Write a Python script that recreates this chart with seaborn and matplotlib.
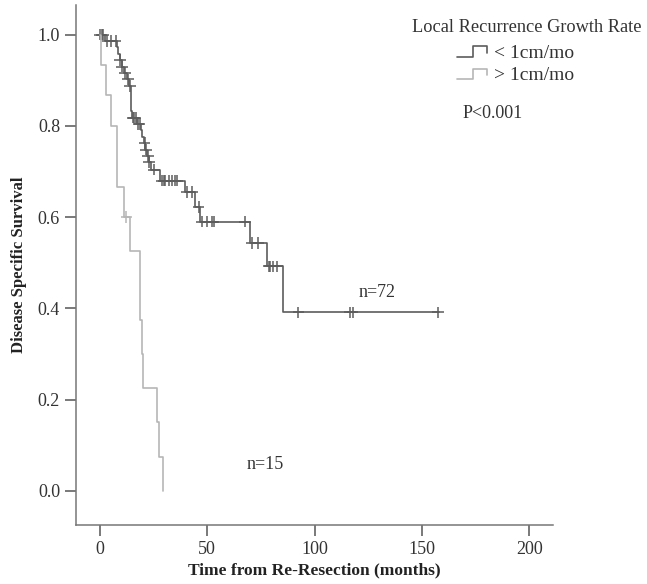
import numpy as np
import pandas as pd
import matplotlib
matplotlib.use("Agg")
import matplotlib.pyplot as plt
import seaborn as sns
from matplotlib.lines import Line2D
from matplotlib.legend_handler import HandlerBase

# KM step functions (time in months, survival)
slow_time = [0, 2.5, 8.2, 8.6, 9.3, 10.2, 11.4, 12.7, 13.8, 14.4, 14.8, 15.2, 17.5,
             19.2, 19.8, 20.5, 21.3, 22.0, 22.8, 23.7, 28.3, 39.9, 44.2, 46.9,
             70.1, 77.8, 85.5, 158.0]
slow_surv = [1.0, 0.986, 0.972, 0.958, 0.944, 0.930, 0.916, 0.902, 0.888, 0.860,
             0.832, 0.818, 0.804, 0.790, 0.776, 0.762, 0.748, 0.734, 0.720, 0.704,
             0.680, 0.655, 0.622, 0.590, 0.543, 0.492, 0.391, 0.391]
slow_censor = [0.2, 0.9, 1.7, 3.6, 5.1, 7.4, 9.6, 10.5, 11.7, 13.2, 14.0, 15.4, 15.9,
               16.7, 18.0, 18.6, 20.9, 21.6, 22.4, 23.1, 25.2, 29.1, 29.8, 30.6,
               32.1, 33.7, 35.3, 36.0, 40.7, 43.0, 46.1, 47.7, 50.0, 52.3, 53.0,
               67.7, 70.9, 73.9, 78.6, 79.4, 80.9, 82.5, 92.5, 116.5, 117.7, 157.5]

fast_time = [0, 0.8, 2.8, 5.1, 8.2, 11.3, 14.1, 18.7, 19.0, 19.8, 20.3, 26.5, 27.8, 29.6]
fast_surv = [1.0, 0.933, 0.867, 0.800, 0.667, 0.600, 0.525, 0.450, 0.375, 0.300,
             0.225, 0.150, 0.075, 0.0]
fast_censor = [12.5]

groups = ["< 1cm/mo", "> 1cm/mo"]
colors = ["#5c5c5c", "#b6b6b6"]


def censor_points(times, surv, cens):
    idx = np.searchsorted(times, cens, side="right") - 1
    return np.array(surv)[idx]


curves = pd.concat([
    pd.DataFrame({"t": slow_time, "s": slow_surv, "g": groups[0]}),
    pd.DataFrame({"t": fast_time, "s": fast_surv, "g": groups[1]}),
])
marks = pd.concat([
    pd.DataFrame({"t": slow_censor, "s": censor_points(slow_time, slow_surv, slow_censor), "g": groups[0]}),
    pd.DataFrame({"t": fast_censor, "s": censor_points(fast_time, fast_surv, fast_censor), "g": groups[1]}),
])

sns.set_style("white")
plt.rcParams["font.family"] = ["Liberation Serif", "DejaVu Serif"]

fig = plt.figure(figsize=(6.47, 5.84), dpi=100)
ax = fig.add_axes([76 / 647, 1 - 525 / 584, 477 / 647, 520 / 584])

pal = dict(zip(groups, colors))
sns.lineplot(data=curves, x="t", y="s", hue="g", palette=pal, estimator=None,
             drawstyle="steps-post", linewidth=1.2, legend=False, ax=ax)
sns.scatterplot(data=marks, x="t", y="s", hue="g", palette=pal, marker="+",
                s=70, linewidth=1.1, legend=False, ax=ax)

ax.set_xlim(-11, 211)
ax.set_ylim(-0.075, 1.065)
ax.set_xticks([0, 50, 100, 150, 200])
ax.set_yticks(np.arange(0, 1.01, 0.2))
ax.set_yticklabels([f"{v:.1f}" for v in np.arange(0, 1.01, 0.2)])
ax.tick_params(axis="both", direction="out", length=8, width=1.1, color="#555555",
               labelsize=13, labelcolor="#333333", bottom=True, left=True)
for side in ["top", "right"]:
    ax.spines[side].set_visible(False)
for side in ["left", "bottom"]:
    ax.spines[side].set_color("#777777")
    ax.spines[side].set_linewidth(1.1)

ax.set_xlabel("Time from Re-Resection (months)", fontsize=12.5, fontweight="bold",
              color="#222222", labelpad=3)
ax.set_ylabel("Disease Specific Survival", fontsize=12, fontweight="bold",
              color="#222222", labelpad=8)

ax.text(129, 0.434, "n=72", fontsize=13, color="#333333", ha="center", va="center")
ax.text(77, 0.057, "n=15", fontsize=13, color="#333333", ha="center", va="center")


class StepHandler(HandlerBase):
    def create_artists(self, legend, orig_handle, xdescent, ydescent, width, height,
                       fontsize, trans):
        xs = np.array([0.0, 0.45, 0.45, 0.85, 0.85]) * width - xdescent
        ys = np.array([0.05, 0.05, 0.85, 0.85, 0.35]) * height - ydescent
        ln = Line2D(xs, ys, color=orig_handle.get_color(), lw=1.2)
        ln.set_transform(trans)
        return [ln]


handles = [Line2D([], [], color=c) for c in colors]
leg = ax.legend(handles, groups, handler_map={Line2D: StepHandler()}, frameon=False,
                loc="upper left", bbox_to_anchor=(457 / 647, 1 - 44 / 584),
                bbox_transform=fig.transFigure, borderpad=0, borderaxespad=0,
                handlelength=1.8, handletextpad=0.1, labelspacing=0.25, fontsize=14)
for t in leg.get_texts():
    t.set_color("#333333")

fig.text(527 / 647, 1 - 27 / 584, "Local Recurrence Growth Rate", fontsize=13.2,
         color="#333333", ha="center", va="center")
fig.text(493 / 647, 1 - 113 / 584, "P<0.001", fontsize=13, color="#333333",
         ha="center", va="center")

fig.savefig("out.png", dpi=100)
